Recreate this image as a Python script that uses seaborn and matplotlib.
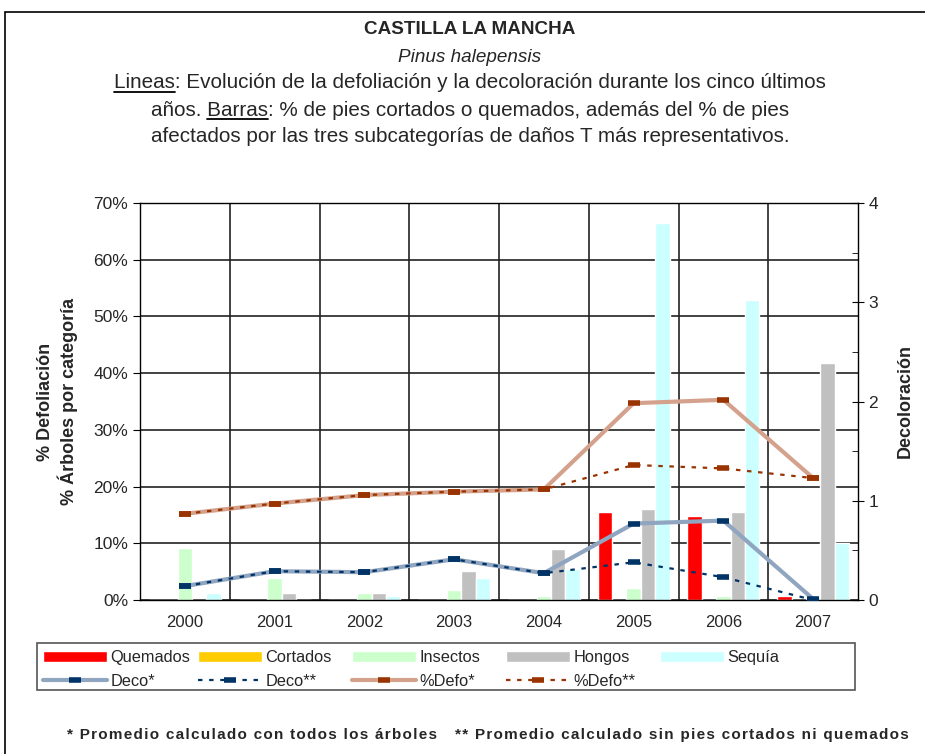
import numpy as np
import pandas as pd
import seaborn as sns
import matplotlib.pyplot as plt
from matplotlib.lines import Line2D
from matplotlib.patches import Rectangle

years = ["2000", "2001", "2002", "2003", "2004", "2005", "2006", "2007"]

# barras: % de pies por categoría
quemados = [0, 0, 0, 0, 0, 15.5, 14.8, 0.7]
cortados = [0, 0, 0, 0, 0, 0, 0, 0]
insectos = [9.2, 3.9, 1.2, 1.8, 0.7, 2.2, 0.7, 0.5]
hongos = [0, 1.2, 1.2, 5.1, 9.0, 16.0, 15.5, 41.8]
sequia = [1.2, 0, 0.7, 3.9, 5.4, 66.4, 52.9, 10.0]

# líneas
defo_all = [15.2, 17.0, 18.5, 19.1, 19.5, 34.7, 35.3, 21.5]
defo_sin = [15.2, 17.0, 18.5, 19.1, 19.5, 23.8, 23.2, 21.5]
deco_all = [0.14, 0.29, 0.28, 0.41, 0.27, 0.77, 0.80, 0.01]
deco_sin = [0.14, 0.29, 0.28, 0.41, 0.27, 0.38, 0.23, 0.0]

categorias = ["Quemados", "Cortados", "Insectos", "Hongos", "Sequía"]
colores = ["#FF0000", "#FFCC00", "#CCFFCC", "#C0C0C0", "#CCFFFF"]

W, H = 925, 754


def main() -> None:
    sns.set_style("white")
    plt.rcParams["font.family"] = ["Liberation Sans", "DejaVu Sans"]

    df = pd.DataFrame({
        "year": np.repeat(years, 5),
        "cat": categorias * len(years),
        "pct": np.array([quemados, cortados, insectos, hongos, sequia]).T.ravel(),
    })

    fig = plt.figure(figsize=(W / 100, H / 100), dpi=100)
    ax = fig.add_axes([140 / W, 1 - 600 / H, 718 / W, 397 / H])

    sns.barplot(data=df, x="year", y="pct", hue="cat", hue_order=categorias,
                palette=colores, saturation=1, width=0.8, ax=ax, legend=True)
    bar_h, bar_l = ax.get_legend_handles_labels()
    ax.get_legend().remove()

    pos = np.arange(len(years))
    sns.lineplot(x=pos, y=defo_all, ax=ax, color="#D4A28C", lw=3,
                 marker="_", ms=9, mew=4, mec="#993300", label="%Defo*", legend=False)
    sns.lineplot(x=pos, y=defo_sin, ax=ax, color="#993300", lw=1.6, dashes=(2, 3),
                 marker="_", ms=9, mew=4, mec="#993300", label="%Defo**", legend=False)

    ax.set_ylim(0, 70)
    ax.set_xlim(-0.5, 7.5)
    ax.set_yticks(range(0, 71, 10))
    ax.set_yticklabels([f"{v}%" for v in range(0, 71, 10)], fontsize=12.5)
    ax.set_xticks(pos)
    ax.set_xticklabels(years, fontsize=12)
    ax.set_xticks(np.arange(0.5, 7.5, 1), minor=True)
    ax.tick_params(axis="x", which="major", length=0, pad=11)
    ax.tick_params(axis="x", which="minor", length=5, direction="out", color="black")
    ax.tick_params(axis="y", length=5, direction="out", color="black", left=True)
    ax.grid(axis="y", color="#222222", lw=1.2)
    ax.grid(axis="x", which="minor", color="#222222", lw=1.2)
    ax.set_axisbelow(True)
    for s in ax.spines.values():
        s.set_color("black")
        s.set_linewidth(1)
    ax.set_xlabel("")
    ax.set_ylabel("% Defoliación\n% Árboles por categoría", fontsize=13,
                  fontweight="bold", linespacing=1.25)
    ax.yaxis.set_label_coords(-0.086, 0.5)

    ax2 = ax.twinx()
    sns.lineplot(x=pos, y=deco_all, ax=ax2, color="#8FA5C0", lw=3,
                 marker="_", ms=9, mew=4, mec="#003366", label="Deco*", legend=False)
    sns.lineplot(x=pos, y=deco_sin, ax=ax2, color="#003366", lw=1.6, dashes=(2, 3),
                 marker="_", ms=9, mew=4, mec="#003366", label="Deco**", legend=False)
    ax2.set_ylim(0, 4)
    ax2.set_yticks(range(5))
    ax2.set_yticklabels([str(v) for v in range(5)], fontsize=12.5)
    ax2.set_yticks(np.arange(0.5, 4, 1), minor=True)
    ax2.tick_params(axis="y", which="major", length=8, direction="inout", color="black", right=True)
    ax2.tick_params(axis="y", which="minor", length=4, direction="in", color="black", right=True)
    ax2.set_ylabel("Decoloración", fontsize=13, fontweight="bold")
    ax2.yaxis.set_label_coords(1.054, 0.5)
    for s in ax2.spines.values():
        s.set_visible(False)

    # leyenda: una columna por cada par, dentro de un recuadro
    line_h = {l.get_label(): l for l in ax.lines + ax2.lines}
    columnas = [
        ([bar_h[0], line_h["Deco*"]], ["Quemados", "Deco*"]),
        ([bar_h[1], line_h["Deco**"]], ["Cortados", "Deco**"]),
        ([bar_h[2], line_h["%Defo*"]], ["Insectos", "%Defo*"]),
        ([bar_h[3], line_h["%Defo**"]], ["Hongos", "%Defo**"]),
        ([bar_h[4]], ["Sequía"]),
    ]
    col_x = [43, 198, 352, 506, 660]
    for (hs, ls), cx in zip(columnas, col_x):
        fig.legend(hs, ls, loc="upper left", bbox_to_anchor=(cx / W, 1 - 650 / H),
                   fontsize=11.8, frameon=False, handlelength=3.9,
                   handleheight=0.65, handletextpad=0.2, borderpad=0,
                   labelspacing=0.55, borderaxespad=0)
    fig.add_artist(Rectangle((37 / W, 1 - 690 / H), 818 / W, 47 / H,
                             transform=fig.transFigure, fill=False,
                             edgecolor="#555555", lw=1.2))

    # títulos
    fig.text(0.508, 1 - 30 / H, "CASTILLA LA MANCHA", ha="center", va="center",
             fontsize=13.6, fontweight="bold")
    fig.text(0.508, 1 - 57 / H, "Pinus halepensis", ha="center", va="center",
             fontsize=13.6, style="italic")
    fs = 14.9
    l1 = "Lineas: Evolución de la defoliación y la decoloración durante los cinco últimos"
    l2 = "años. Barras: % de pies cortados o quemados, además del % de pies"
    l3 = "afectados por las tres subcategorías de daños T más representativos."
    t1 = fig.text(0.508, 1 - 83 / H, l1, ha="center", va="center", fontsize=fs)
    t2 = fig.text(0.508, 1 - 110 / H, l2, ha="center", va="center", fontsize=fs)
    fig.text(0.508, 1 - 137 / H, l3, ha="center", va="center", fontsize=fs)

    fig.canvas.draw()
    r = fig.canvas.get_renderer()

    def width(s):
        tmp = fig.text(0, 0, s, fontsize=fs)
        w = tmp.get_window_extent(r).width
        tmp.remove()
        return w

    def underline(t, before, word):
        bb = t.get_window_extent(r)
        x1 = bb.x0 + width(before + word)
        x0 = x1 - width(word)
        y = bb.y0 + 1
        fig.add_artist(Line2D([x0 / W, x1 / W], [y / H, y / H],
                              color="black", lw=1.3))

    underline(t1, "", "Lineas")
    underline(t2, "años. ", "Barras")

    spaced = lambda s: "\u200a".join(s)
    fig.text(67 / W, 1 - 735 / H, spaced("* Promedio calculado con todos los árboles"),
             ha="left", va="center", fontsize=11, fontweight="bold")
    fig.text(455 / W, 1 - 735 / H, spaced("** Promedio calculado sin pies cortados ni quemados"),
             ha="left", va="center", fontsize=11, fontweight="bold")

    fig.add_artist(Rectangle((5 / W, -0.05), 1.0, 1 - 12 / H + 0.05,
                             transform=fig.transFigure, fill=False,
                             edgecolor="black", lw=1.2))

    fig.savefig("out.png", dpi=100)


if __name__ == "__main__":
    main()
